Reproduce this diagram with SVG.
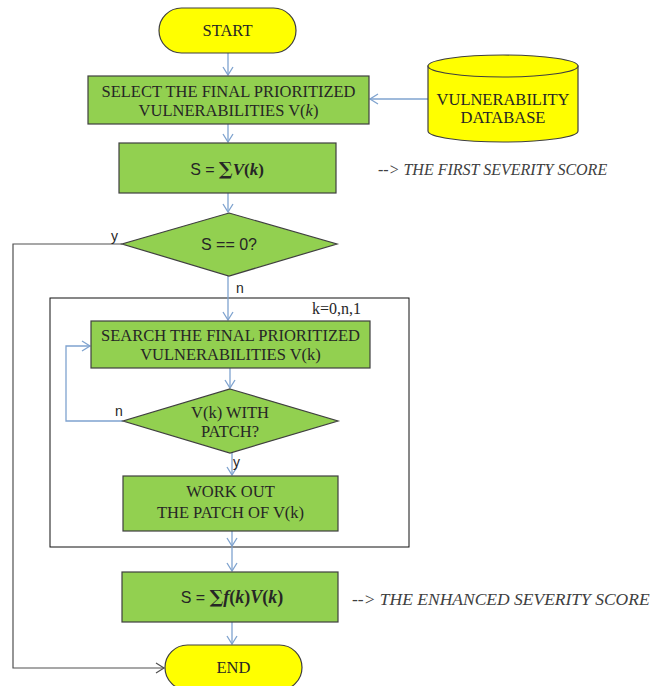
<svg xmlns="http://www.w3.org/2000/svg" width="663" height="686" viewBox="0 0 663 686">
<style>
.proc{fill:#92D050;stroke:#3F3F3F;stroke-width:1.2}
.term{fill:#FFFF00;stroke:#3F3F3F;stroke-width:1.2}
.lbl{font-family:"Liberation Serif",serif;font-size:16.5px;fill:#262626;text-anchor:middle}
.sans{font-family:"Liberation Sans",sans-serif;fill:#262626}
.note{font-family:"Liberation Serif",serif;font-style:italic;font-size:16px;fill:#404040}
.flow{fill:none;stroke:#7FA3CF;stroke-width:1.3}
.back{fill:none;stroke:#505050;stroke-width:1.2}
</style>
<defs>
<marker id="ab" markerUnits="userSpaceOnUse" markerWidth="12" markerHeight="12" refX="0" refY="0" viewBox="-9 -6 10 12" orient="auto"><path d="M-8,-5 L0,0 L-8,5" fill="none" stroke="#7FA3CF" stroke-width="1.3"/></marker>
<marker id="ag" markerUnits="userSpaceOnUse" markerWidth="12" markerHeight="12" refX="0" refY="0" viewBox="-9 -6 10 12" orient="auto"><path d="M-8,-5 L0,0 L-8,5" fill="none" stroke="#505050" stroke-width="1.2"/></marker>
</defs>
<g id="loopbox"><rect x="50" y="298" width="359" height="249" fill="none" stroke="#111" stroke-width="1"/><text x="312" y="314" style="font-family:'Liberation Serif',serif;font-size:16px;fill:#262626">k=0,n,1</text></g>
<g id="connectors">
<line class="flow" x1="228" y1="53" x2="228" y2="75" marker-end="url(#ab)"/>
<line class="flow" x1="428" y1="99" x2="370" y2="99" marker-end="url(#ab)"/>
<line class="flow" x1="228" y1="124" x2="228" y2="142" marker-end="url(#ab)"/>
<line class="flow" x1="228" y1="193" x2="228" y2="212" marker-end="url(#ab)"/>
<line class="flow" x1="228" y1="276" x2="228" y2="320" marker-end="url(#ab)"/>
<line class="flow" x1="230" y1="368" x2="230" y2="388" marker-end="url(#ab)"/>
<polyline class="flow" points="123,421 66,421 66,346 90,346" marker-end="url(#ab)"/>
<line class="flow" x1="232" y1="453" x2="232" y2="475" marker-end="url(#ab)"/>
<line class="flow" x1="232" y1="531" x2="232" y2="546" marker-end="url(#ab)"/>
<line class="flow" x1="232" y1="547" x2="232" y2="571" marker-end="url(#ab)"/>
<line class="flow" x1="232" y1="622" x2="232" y2="644" marker-end="url(#ab)"/>
<polyline class="back" points="122,244 13,244 13,668 164,668" marker-end="url(#ag)"/>
<text class="sans" x="111" y="241" style="font-size:14px">y</text>
<text class="sans" x="236" y="293" style="font-size:14px">n</text>
<text class="sans" x="115" y="416" style="font-size:14px">n</text>
<text class="sans" x="233" y="467" style="font-size:14px">y</text>
</g>
<g id="start"><rect class="term" x="159" y="8" width="137" height="45" rx="22.5"/><text class="lbl" x="227.5" y="36">START</text></g>
<g id="select"><rect class="proc" x="88" y="76" width="281" height="48"/><text class="lbl" x="228.5" y="97">SELECT THE FINAL PRIORITIZED</text><text class="lbl" x="228.5" y="116">VULNERABILITIES V(<tspan font-style="italic">k</tspan>)</text></g>
<g id="database"><path class="term" d="M428,66 L428,131 A75,11 0 0 0 578,131 L578,66 Z"/><ellipse class="term" cx="503" cy="66" rx="75" ry="11"/><text class="lbl" x="503" y="105">VULNERABILITY</text><text class="lbl" x="503" y="123">DATABASE</text></g>
<g id="sum1"><rect class="proc" x="119" y="143" width="217" height="50"/><text x="227" y="175" style="text-anchor:middle;fill:#262626"><tspan style="font-family:'Liberation Sans',sans-serif;font-size:16px">S = </tspan><tspan style="font-family:'DejaVu Serif',serif;font-weight:bold;font-size:18px">∑</tspan><tspan style="font-family:'Liberation Serif',serif;font-weight:bold;font-style:italic;font-size:17px">V</tspan><tspan style="font-family:'Liberation Serif',serif;font-weight:bold;font-size:17px">(</tspan><tspan style="font-family:'Liberation Serif',serif;font-weight:bold;font-style:italic;font-size:17px">k</tspan><tspan style="font-family:'Liberation Serif',serif;font-weight:bold;font-size:17px">)</tspan></text></g>
<text class="note" x="378" y="175">--&gt; THE FIRST SEVERITY SCORE</text>
<g id="decision1"><polygon class="proc" points="229,213 337,244 229,276 122,244"/><text class="sans" x="229" y="250" style="font-size:16px;text-anchor:middle">S == 0?</text></g>
<g id="search"><rect class="proc" x="91" y="321" width="279" height="47"/><text class="lbl" x="230.5" y="341">SEARCH THE FINAL PRIORITIZED</text><text class="lbl" x="230.5" y="360">VULNERABILITIES V(k)</text></g>
<g id="decision2"><polygon class="proc" points="230,389 338,421 230,453 123,421"/><text class="lbl" x="230" y="418">V(k) WITH</text><text class="lbl" x="230" y="437">PATCH?</text></g>
<g id="workout"><rect class="proc" x="123" y="476" width="215" height="55"/><text class="lbl" x="230.5" y="497">WORK OUT</text><text class="lbl" x="230.5" y="518">THE PATCH OF V(k)</text></g>
<g id="sum2"><rect class="proc" x="122" y="572" width="216" height="50"/><text x="232" y="603" style="text-anchor:middle;fill:#262626"><tspan style="font-family:'Liberation Sans',sans-serif;font-size:16px">S = </tspan><tspan style="font-family:'DejaVu Serif',serif;font-weight:bold;font-size:18px">∑</tspan><tspan style="font-family:'Liberation Serif',serif;font-weight:bold;font-style:italic;font-size:18px">f</tspan><tspan style="font-family:'Liberation Serif',serif;font-weight:bold;font-size:18px">(</tspan><tspan style="font-family:'Liberation Serif',serif;font-weight:bold;font-style:italic;font-size:18px">k</tspan><tspan style="font-family:'Liberation Serif',serif;font-weight:bold;font-size:18px">)</tspan><tspan style="font-family:'Liberation Serif',serif;font-weight:bold;font-style:italic;font-size:18px">V</tspan><tspan style="font-family:'Liberation Serif',serif;font-weight:bold;font-size:18px">(</tspan><tspan style="font-family:'Liberation Serif',serif;font-weight:bold;font-style:italic;font-size:18px">k</tspan><tspan style="font-family:'Liberation Serif',serif;font-weight:bold;font-size:18px">)</tspan></text></g>
<text class="note" x="352" y="605" style="font-size:17.5px">--&gt; THE ENHANCED SEVERITY SCORE</text>
<g id="end"><rect class="term" x="165" y="645" width="137" height="45" rx="22.5"/><text class="lbl" x="233.5" y="673">END</text></g>
</svg>
